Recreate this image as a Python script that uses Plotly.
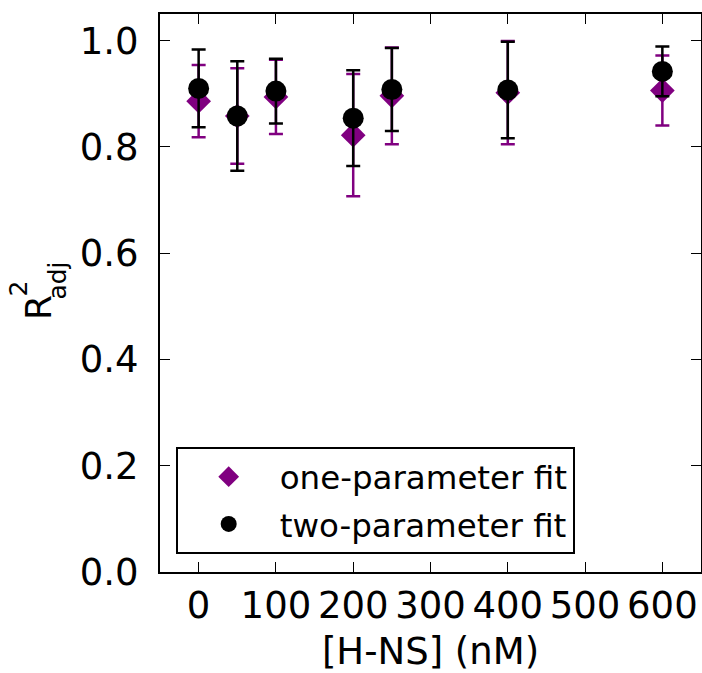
import plotly.graph_objects as go

# Data
conc = [0, 50, 100, 200, 250, 400, 600]
one_param = [0.886, 0.858, 0.894, 0.822, 0.896, 0.902, 0.906]
one_param_err = [0.068, 0.09, 0.070, 0.115, 0.091, 0.097, 0.066]
two_param = [0.910, 0.858, 0.905, 0.854, 0.908, 0.907, 0.942]
two_param_err = [0.073, 0.103, 0.061, 0.090, 0.078, 0.091, 0.047]

x_ticks = [0, 100, 200, 300, 400, 500, 600]
y_ticks = [0.0, 0.2, 0.4, 0.6, 0.8, 1.0]

PURPLE = "#800080"
FONT = "DejaVu Sans"

fig = go.Figure()
fig.add_trace(go.Scatter(
    x=conc, y=one_param, mode="markers", name="one-parameter fit", legendgroup="a",
    marker=dict(symbol="diamond", size=19, color=PURPLE, line=dict(width=0)),
    error_y=dict(type="data", array=one_param_err, color=PURPLE, thickness=2.5, width=7),
))
fig.add_trace(go.Scatter(
    x=conc, y=two_param, mode="markers", name="two-parameter fit", legendgroup="b",
    marker=dict(symbol="circle", size=21, color="black", line=dict(width=0)),
    error_y=dict(type="data", array=two_param_err, color="black", thickness=2.5, width=7),
))

axis_common = dict(
    showline=True, linecolor="black", linewidth=2, mirror="allticks",
    ticks="inside", ticklen=10, tickwidth=1.3, tickcolor="black",
    showgrid=False, zeroline=False, automargin=False,
    tickfont=dict(family=FONT, size=37, color="black"),
)

fig.update_xaxes(
    range=[-50, 650], tickvals=x_ticks, ticktext=[str(v) for v in x_ticks],
    title=dict(text="[H-NS] (nM)", font=dict(family=FONT, size=37, color="black"), standoff=12),
    ticklabelstandoff=0,
    **axis_common,
)
fig.update_yaxes(
    range=[0, 1.05], tickvals=y_ticks, ticktext=[f"{v:.1f}" for v in y_ticks],
    ticklabelstandoff=12,
    **axis_common,
)

# y-axis label R^2_adj with stacked super/subscript
ylab = [("R", -0.2248, 0.4739, 36), ("2", -0.2607, 0.5078, 25), ("adj", -0.1887, 0.5221, 25)]
for txt, xx, yy, sz in ylab:
    fig.add_annotation(text=txt, xref="paper", yref="paper", x=xx, y=yy,
                       xanchor="center", yanchor="middle", textangle=-90,
                       showarrow=False, font=dict(family=FONT, size=sz, color="black"))

fig.update_layout(
    width=702, height=673,
    margin=dict(l=160, r=1, t=14, b=101),
    paper_bgcolor="white", plot_bgcolor="white",
    showlegend=True,
    legend=dict(
        x=0.029, y=0.224, xanchor="left", yanchor="top",
        bordercolor="black", borderwidth=2, bgcolor="white",
        font=dict(family=FONT, size=32.5, color="black"),
        itemwidth=92, traceorder="grouped", tracegroupgap=2,
    ),
)

fig.write_html(
    "out.html",
    config={"displayModeBar": False},
    post_script="document.body.style.margin='0';document.body.style.padding='0';document.body.style.overflow='hidden';",
)
